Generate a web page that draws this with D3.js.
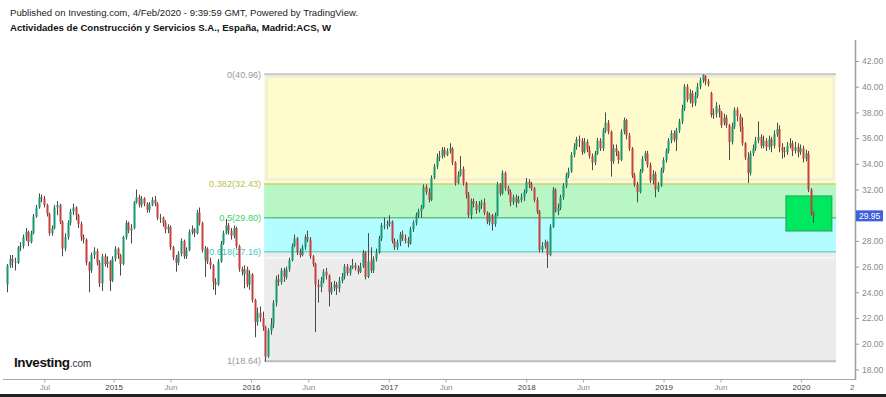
<!DOCTYPE html>
<html><head><meta charset="utf-8">
<script src="https://cdn.jsdelivr.net/npm/d3@7"></script>
<style>
body{margin:0;background:#fff;}
svg{display:block;font-family:"Liberation Sans",Arial,sans-serif;}
</style>
</head><body>
<svg id="c" width="886" height="397"></svg>
<script>
// ---------- DATA ----------
const firstWeek = "2014-03-24"; // weekly candles, one per week from here
const open = [
24.6,26.1,26.6,26.4,26.3,27.5,27.6,28.3,28.7,27.9,
28.6,29.9,30.6,31.4,31.3,30.8,30.1,28.6,29.0,30.6,
30.8,29.5,27.4,28.3,29.4,30.3,30.6,30.0,29.3,28.3,
28.1,26.3,25.7,26.9,27.2,26.3,24.7,26.8,26.2,26.4,
24.9,26.6,27.4,26.9,26.2,28.3,29.4,28.8,29.0,31.0,
31.4,30.8,31.3,30.9,30.4,30.8,31.2,30.9,29.8,29.8,
29.4,28.9,29.1,27.5,26.7,26.3,27.0,28.0,26.8,27.3,
28.7,28.9,28.6,30.2,29.4,26.5,27.4,26.4,26.1,24.8,
24.6,26.4,27.8,28.6,29.2,28.8,28.4,29.0,27.6,25.8,
25.4,25.8,24.6,25.4,23.4,21.7,22.4,22.0,21.3,19.0,
21.0,21.5,23.2,25.0,24.8,25.7,25.2,25.8,26.5,27.6,
28.2,27.1,26.9,27.5,28.3,28.1,26.8,26.2,24.6,24.4,
24.9,25.6,25.3,24.0,24.4,24.6,24.3,24.9,25.2,26.0,
25.5,25.9,26.1,25.9,25.6,26.0,27.1,25.2,26.4,25.7,
26.6,27.1,28.2,29.2,29.2,29.3,29.5,28.0,27.5,27.9,
28.5,28.2,28.0,27.8,28.9,29.4,30.0,30.3,30.6,32.2,
31.8,31.2,32.9,33.8,34.5,34.6,35.1,34.7,35.0,35.2,
34.1,32.5,33.1,33.6,32.5,31.6,30.0,31.1,30.9,30.4,
30.8,31.0,30.2,29.5,30.0,29.3,30.0,32.4,31.7,33.3,
32.1,31.8,31.0,31.4,31.0,31.2,31.4,31.8,32.6,32.4,
32.1,31.2,30.3,27.3,27.6,27.9,26.9,29.1,32.0,30.3,
30.6,31.4,32.3,33.1,33.4,34.7,35.3,35.9,35.8,34.9,
35.7,35.1,34.6,34.1,34.8,35.8,35.2,36.6,37.2,36.5,
34.2,35.2,34.9,34.3,36.5,37.4,36.2,35.2,33.1,32.4,
31.8,33.4,34.4,34.8,33.9,32.7,33.2,32.0,32.3,33.5,
34.3,35.0,35.8,36.4,35.9,36.6,37.3,38.3,40.0,39.0,
39.5,38.7,39.3,40.0,40.5,40.8,40.4,39.5,37.8,37.9,
38.3,38.0,37.2,37.6,37.0,35.7,36.9,38.2,37.7,36.9,
35.6,34.5,33.3,34.8,35.2,35.8,36.1,35.4,35.8,35.3,
35.9,35.4,36.3,36.7,35.3,35.0,34.9,35.4,35.6,35.0,
35.3,34.9,35.2,34.4,34.8,32.0,30.2];
const high = [
26.2,26.9,26.9,26.7,27.6,27.9,28.5,29.0,28.8,28.8,
30.1,30.8,31.7,31.6,31.5,30.9,30.2,29.2,30.8,31.1,
30.9,29.6,28.6,29.6,30.5,30.9,30.7,30.1,29.5,28.5,
28.2,26.4,27.1,27.5,27.4,26.5,27.0,27.0,26.8,26.5,
26.8,27.6,27.5,27.0,28.4,29.6,29.5,29.3,31.1,32.0,
31.6,31.5,31.4,31.0,31.0,31.4,31.5,31.0,30.1,29.9,
29.6,29.3,29.2,27.6,26.9,27.2,28.2,28.1,27.5,28.9,
29.2,29.0,30.4,30.6,29.5,27.6,27.5,26.7,26.2,25.1,
26.6,28.0,28.8,29.7,29.4,29.0,29.2,29.1,27.7,26.0,
26.1,26.0,25.7,25.5,23.5,22.8,22.9,22.5,21.4,21.2,
22.0,23.4,25.3,25.4,25.9,25.9,26.0,26.7,27.8,28.5,
28.3,27.4,27.7,28.5,28.8,28.3,26.9,26.3,25.0,25.2,
25.8,25.9,25.4,24.8,24.9,24.8,25.2,25.5,26.2,26.2,
26.1,26.6,26.3,26.1,26.3,27.3,27.2,28.6,27.5,26.8,
27.4,28.4,29.4,29.8,29.6,30.0,29.6,28.2,28.1,28.7,
28.8,28.5,28.3,29.1,29.6,30.2,30.5,30.8,32.4,32.4,
32.1,33.1,34.0,34.8,35.0,35.3,35.3,35.2,35.6,35.3,
34.2,33.4,34.6,33.8,32.6,31.8,31.3,31.3,31.1,31.1,
31.2,31.3,30.3,30.2,30.1,30.2,32.6,32.5,33.5,33.4,
32.3,32.0,31.6,31.6,31.5,31.7,32.0,32.9,32.8,32.6,
32.2,31.4,30.4,27.9,28.1,28.0,29.3,32.2,32.1,30.9,
31.6,32.5,33.3,33.7,34.9,35.6,36.1,36.2,36.0,36.0,
35.9,35.4,34.8,35.0,36.0,36.0,36.8,38.0,37.4,36.6,
35.5,35.5,35.0,36.7,37.6,37.5,36.4,35.3,33.3,32.6,
33.6,34.6,35.0,35.0,34.1,33.5,33.4,32.6,33.7,34.5,
35.2,36.0,36.6,36.6,36.8,37.5,38.6,40.2,40.2,39.8,
39.7,39.6,40.3,40.7,40.96,40.9,40.6,39.6,38.3,38.8,
38.6,38.1,37.9,37.8,37.1,37.2,38.4,38.4,37.9,37.6,
35.7,34.9,35.0,35.5,36.1,37.3,36.3,36.2,36.0,36.2,
36.1,36.6,37.2,37.0,35.6,35.3,35.7,36.0,35.8,35.7,
35.6,35.5,35.4,35.1,35.0,32.1,30.3];
const low = [
24.0,25.9,25.9,25.7,26.2,27.2,27.4,28.0,27.6,27.8,
28.5,29.8,30.5,31.0,30.6,29.9,28.4,28.4,28.9,30.0,
29.3,26.8,27.2,28.1,29.2,30.0,29.6,29.0,28.0,27.8,
26.1,24.0,25.5,26.6,26.1,24.4,24.1,26.0,25.9,24.1,
24.8,26.4,26.6,25.3,26.1,28.1,28.6,27.8,28.9,30.9,
30.6,30.6,30.7,30.2,30.2,30.7,30.7,29.6,29.4,29.1,
28.6,28.6,27.3,26.5,25.6,26.1,26.8,26.6,26.6,27.2,
28.5,28.3,28.5,29.2,27.1,25.2,26.2,25.8,24.2,23.8,
24.5,26.3,27.7,28.5,28.5,28.1,28.2,27.4,25.6,25.3,
24.3,24.4,24.2,23.2,20.5,21.4,21.7,21.0,18.64,18.9,
20.7,21.2,22.9,24.5,24.6,24.8,25.0,25.6,26.4,27.5,
26.9,26.7,26.8,27.3,27.9,26.6,26.0,20.9,23.2,24.0,
24.7,25.0,22.9,23.8,24.1,23.8,24.0,24.7,25.0,25.3,
25.3,25.8,25.7,25.4,25.5,25.9,25.0,25.1,25.5,25.5,
26.4,27.0,28.0,28.9,28.9,29.1,27.8,27.3,27.3,27.6,
28.0,27.8,27.5,27.7,28.7,29.2,29.8,29.8,30.5,31.6,
31.0,31.1,32.8,33.6,34.2,34.4,34.5,34.6,34.8,33.9,
32.3,32.4,33.0,32.3,31.3,29.8,29.7,30.6,30.1,30.2,
30.5,30.0,29.3,29.2,28.8,29.1,29.9,31.5,31.6,31.9,
31.6,30.7,30.8,30.6,30.9,31.0,31.1,31.7,32.1,31.9,
31.0,30.1,27.1,27.1,27.4,25.9,26.8,29.0,30.2,30.0,
30.4,31.2,32.1,32.9,33.3,34.5,35.1,35.3,34.7,34.8,
34.9,34.4,33.5,33.9,34.7,35.0,35.0,36.4,36.3,33.0,
34.0,34.6,34.0,34.2,36.3,35.9,35.0,32.9,32.2,31.0,
31.7,33.3,34.2,33.7,32.5,32.4,31.4,31.8,32.2,33.3,
34.1,34.8,35.6,35.7,35.0,36.4,37.1,38.1,38.8,38.7,
38.4,38.5,39.1,39.8,40.3,40.1,40.0,37.6,37.5,37.6,
37.6,36.8,37.0,36.8,34.3,35.5,36.7,37.3,36.5,35.4,
34.3,32.5,33.1,34.6,35.0,35.6,35.2,35.2,35.0,35.1,
34.9,35.2,36.1,34.9,34.4,34.5,34.7,35.2,34.6,34.8,
34.5,34.7,34.1,34.2,31.8,30.0,29.4];
const close = [
26.1,26.6,26.4,26.3,27.5,27.6,28.3,28.7,27.9,28.6,
29.9,30.6,31.4,31.3,30.8,30.1,28.6,29.0,30.6,30.8,
29.5,27.4,28.3,29.4,30.3,30.6,30.0,29.3,28.3,28.1,
26.3,25.7,26.9,27.2,26.3,24.7,26.8,26.2,26.4,24.9,
26.6,27.4,26.9,26.2,28.3,29.4,28.8,29.0,31.0,31.4,
30.8,31.3,30.9,30.4,30.8,31.2,30.9,29.8,29.8,29.4,
28.9,29.1,27.5,26.7,26.3,27.0,28.0,26.8,27.3,28.7,
28.9,28.6,30.2,29.4,27.3,27.4,26.4,26.1,24.8,24.6,
26.4,27.8,28.6,29.2,28.8,28.4,29.0,27.6,25.8,25.6,
25.8,24.6,25.4,23.4,21.7,22.4,22.0,21.3,19.0,21.0,
21.5,23.2,25.0,24.8,25.7,25.2,25.8,26.5,27.6,28.2,
27.1,26.9,27.5,28.3,28.1,26.8,26.2,24.6,24.4,24.9,
25.6,25.3,24.0,24.4,24.6,24.3,24.9,25.2,26.0,25.5,
25.9,26.1,25.9,25.6,26.0,27.1,25.2,26.4,25.7,26.6,
27.1,28.2,29.2,29.2,29.3,29.5,28.0,27.5,27.9,28.5,
28.2,28.0,27.8,28.9,29.4,30.0,30.3,30.6,32.2,31.8,
31.2,32.9,33.8,34.5,34.6,35.1,34.7,35.0,35.2,34.1,
32.5,33.1,33.6,32.5,31.6,30.0,31.1,30.9,30.4,30.8,
31.0,30.2,29.5,30.0,29.3,30.0,32.4,31.7,33.3,32.1,
31.8,31.0,31.4,31.0,31.2,31.4,31.8,32.6,32.4,32.1,
31.2,30.3,27.3,27.6,27.9,26.9,29.1,32.0,30.3,30.6,
31.4,32.3,33.1,33.4,34.7,35.3,35.9,35.8,34.9,35.7,
35.1,34.6,34.1,34.8,35.8,35.2,36.6,37.2,36.5,34.2,
35.2,34.9,34.3,36.5,37.4,36.2,35.2,33.1,32.4,31.8,
33.4,34.4,34.8,33.9,32.7,33.2,32.0,32.3,33.5,34.3,
35.0,35.8,36.4,35.9,36.6,37.3,38.3,40.0,39.0,39.5,
38.7,39.3,40.0,40.5,40.9,40.4,40.2,37.8,37.9,38.5,
38.0,37.0,37.6,37.0,35.7,36.9,38.2,37.7,36.9,35.6,
34.5,33.3,34.8,35.2,35.8,36.1,35.4,35.8,35.3,35.9,
35.4,36.3,36.7,35.3,35.0,34.9,35.4,35.6,35.0,35.3,
34.9,35.2,34.4,34.8,32.0,30.2,29.95];

const yTicks = [18,20,22,24,26,28,30,32,34,36,38,40,42];
const xTickDates = ["2014-07-01","2015-01-01","2015-06-01","2016-01-01","2016-06-01","2017-01-01","2017-06-01","2018-01-01","2018-06-01","2019-01-01","2019-06-01","2020-01-01"];
const xTickLabels = ["Jul","2015","Jun","2016","Jun","2017","Jun","2018","Jun","2019","Jun","2020"];

const fibLevels = [0, 0.382, 0.5, 0.618, 1];
const fibPrices = [40.96, 32.43, 29.80, 27.16, 18.64];
const fibLabels = ["0(40.96)","0.382(32.43)","0.5(29.80)","0.618(27.16)","1(18.64)"];
const fibStart = "2016-02-05", fibEnd = "2020-04-03";
const boxDates = ["2019-11-22","2020-03-23"], boxPrices = [31.5, 28.77];
const lastPrice = 29.95;

const titleLine1 = "Published on Investing.com, 4/Feb/2020 - 9:39:59 GMT, Powered by TradingView.";
const titleLine2 = "Actividades de Construcción y Servicios S.A., España, Madrid:ACS, W";

// ---------- SCALES ----------
const parse = d3.utcParse("%Y-%m-%d");
const t0 = parse(firstWeek).getTime();
const dates = close.map((_, i) => new Date(t0 + i * 7 * 864e5));

const svg = d3.select("#c");
const x = d3.scaleUtc().domain([parse("2016-01-01"), parse("2020-01-01")]).range([251, 801]);
const y = d3.scaleLinear().domain([18, 42]).range([369.4, 61]);
const axisX = 855;

// titles
svg.append("text").attr("x", 10).attr("y", 15.5).attr("font-size", 9.6).attr("fill", "#222").text(titleLine1);
svg.append("text").attr("x", 10).attr("y", 31).attr("font-size", 9.6).attr("font-weight", "bold").attr("fill", "#111").text(titleLine2);

svg.append("clipPath").attr("id", "plot").append("rect").attr("x", 0).attr("y", 38).attr("width", axisX).attr("height", 341);
const g = svg.append("g").attr("clip-path", "url(#plot)");

// ---------- FIB ----------
const fx0 = x(parse(fibStart)), fx1 = x(parse(fibEnd));
const bandFill = ["#fffbcc", "#b8f6c6", "#b3fcff", "#ececec"];
const lineCol = ["#c6c6c6", "#cbd26c", "#6cc07e", "#72d6c8", "#bdbdbd"];
const labCol = ["#9a9a9a", "#bcc24c", "#3cd06c", "#3fc9c4", "#9a9a9a"];
for (let k = 0; k < 4; k++) {
  g.append("rect").attr("x", fx0).attr("width", fx1 - fx0)
    .attr("y", y(fibPrices[k])).attr("height", y(fibPrices[k + 1]) - y(fibPrices[k]))
    .attr("fill", bandFill[k]);
}
// faint inner outlines
g.append("rect").attr("x", fx0 + 2.5).attr("y", y(fibPrices[0]) + 2.5)
  .attr("width", fx1 - fx0 - 5).attr("height", y(fibPrices[1]) - y(fibPrices[0]) - 7)
  .attr("fill", "none").attr("stroke", "#ededdf").attr("stroke-width", 2);
g.append("line").attr("x1", fx0 + 2).attr("x2", fx1 - 2).attr("y1", y(fibPrices[3]) + 6).attr("y2", y(fibPrices[3]) + 6)
  .attr("stroke", "#f7f7f7").attr("stroke-width", 2);
fibPrices.forEach((p, k) => {
  g.append("line").attr("x1", fx0).attr("x2", fx1).attr("y1", y(p)).attr("y2", y(p))
    .attr("stroke", lineCol[k]).attr("stroke-width", (k === 0 || k === 4) ? 2 : 1.5);
  g.append("text").attr("x", fx0 - 3).attr("y", y(p) + 3.2).attr("text-anchor", "end")
    .attr("font-size", 9.2).attr("fill", labCol[k]).text(fibLabels[k]);
});

// green box
g.append("rect").attr("x", x(parse(boxDates[0]))).attr("width", x(parse(boxDates[1])) - x(parse(boxDates[0])))
  .attr("y", y(boxPrices[0])).attr("height", y(boxPrices[1]) - y(boxPrices[0]))
  .attr("fill", "#00e85e").attr("stroke", "#2a9f58").attr("stroke-width", 1);

// ---------- CANDLES ----------
const cg = g.append("g");
dates.forEach((d, i) => {
  const cx = Math.round(x(d)) + 0.5;
  const up = close[i] >= open[i];
  cg.append("line").attr("x1", cx).attr("x2", cx).attr("y1", y(high[i])).attr("y2", y(low[i]))
    .attr("stroke", "#4a4a4a").attr("stroke-width", 1);
  const yt = y(Math.max(open[i], close[i])), yb = y(Math.min(open[i], close[i]));
  cg.append("rect").attr("x", cx - 1).attr("width", 2).attr("y", yt).attr("height", Math.max(1, yb - yt))
    .attr("fill", up ? "#169870" : "#c8403d");
});

// ---------- AXES ----------
const ly = y(lastPrice);
// right price axis (the tick label hidden behind the last-price box is skipped)
const ra = svg.append("g").attr("transform", `translate(${axisX},0)`)
  .call(d3.axisRight(y).tickValues(yTicks).tickSize(4).tickPadding(3).tickFormat(d => d.toFixed(2)));
ra.select(".domain").remove();
ra.selectAll(".tick line").attr("stroke", "#999");
ra.selectAll(".tick text").attr("fill", "#8a8a8a").attr("font-size", 8.5).attr("font-family", "Liberation Sans, Arial, sans-serif");
ra.selectAll(".tick text").filter(d => Math.abs(y(d) - ly) < 9).remove();
svg.append("line").attr("x1", axisX + 0.5).attr("x2", axisX + 0.5).attr("y1", 40).attr("y2", 380)
  .attr("stroke", "#9d9d9d").attr("stroke-width", 1.5);

// last price label
svg.append("rect").attr("x", axisX + 1).attr("y", ly - 5.5).attr("width", 27).attr("height", 11).attr("fill", "#3f5fdc");
svg.append("text").attr("x", axisX + 4).attr("y", ly + 3).attr("font-size", 8.5).attr("fill", "#fff").text(lastPrice.toFixed(2));

// bottom time axis
svg.append("line").attr("x1", 3).attr("x2", axisX).attr("y1", 379.5).attr("y2", 379.5).attr("stroke", "#a8a8a8").attr("stroke-width", 1);
const ba = svg.append("g").attr("transform", "translate(0,379.5)")
  .call(d3.axisBottom(x).tickValues(xTickDates.map(parse)).tickSize(3).tickPadding(2).tickFormat((d, i) => xTickLabels[i]));
ba.select(".domain").remove();
ba.selectAll(".tick line").attr("stroke", "#aaa");
ba.selectAll(".tick text").attr("font-size", 8).attr("font-family", "Liberation Sans, Arial, sans-serif")
  .attr("fill", (d, i) => /^\d/.test(xTickLabels[i]) ? "#444" : "#888");
svg.append("text").attr("x", 850).attr("y", 390).attr("font-size", 8).attr("fill", "#666").text("2");

// bottom frame line
svg.append("rect").attr("x", 0).attr("y", 394).attr("width", 886).attr("height", 3).attr("fill", "#222");

// logo
const logo = svg.append("text").attr("x", 14).attr("y", 367);
logo.append("tspan").attr("font-size", 13.5).attr("font-weight", "bold").attr("fill", "#111").attr("letter-spacing", -0.4).text("Investing");
logo.append("tspan").attr("font-size", 10).attr("fill", "#333").text(".com");
</script>
</body></html>
